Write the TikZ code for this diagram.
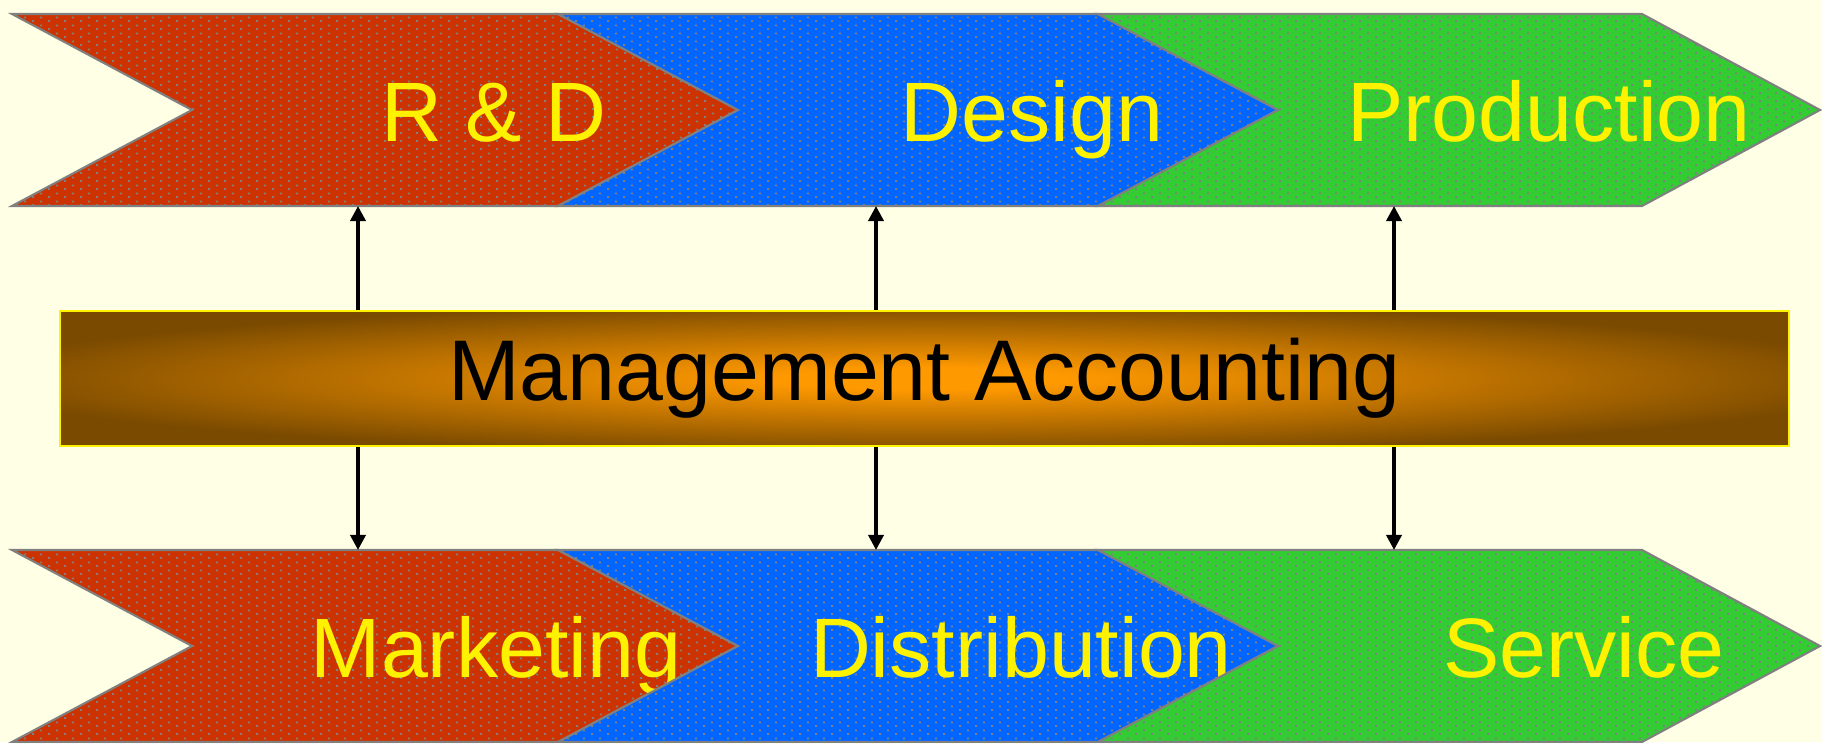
\documentclass[tikz,border=0pt]{standalone}
\usepackage{fontspec}
\setmainfont{Liberation Sans}
\usepackage{xcolor}
\usetikzlibrary{arrows.meta,patterns.meta}

\definecolor{paper}{RGB}{255,255,230}
\definecolor{rim}{RGB}{128,128,128}
\definecolor{boxDark}{RGB}{122,74,0}
\definecolor{boxLight}{RGB}{255,153,0}
\pgfdeclareradialshading{glow}{\pgfpoint{0bp}{0bp}}{color(0bp)=(boxLight); color(4bp)=(boxLight); color(28bp)=(boxDark); color(50bp)=(boxDark)}

% staggered grey stipple laid over the chevrons
\pgfdeclarepattern{
  name=stipple,
  type=uncolored,
  bottom left={\pgfpoint{0pt}{0pt}},
  top right={\pgfpoint{4.55pt}{2.28pt}},
  tile size={\pgfpoint{4.55pt}{2.28pt}},
  code={
    \pgfpathrectangle{\pgfpoint{0pt}{0pt}}{\pgfpoint{0.6pt}{0.6pt}}
    \pgfpathrectangle{\pgfpoint{2.275pt}{1.14pt}}{\pgfpoint{0.6pt}{0.6pt}}
    \pgfusepath{fill}
  }
}

\tikzset{
  chevron/.style={draw=rim, line width=0.6pt, line join=miter,
    postaction={pattern=stipple, pattern color=rim}},
  stage/.style={anchor=base, text=yellow, font=\fontsize{24}{28}\selectfont, inner sep=0pt},
  acctbox/.style={draw=yellow, line width=0.6pt, shading=glow, minimum width=17.29cm,
    minimum height=1.35cm, inner sep=0pt, font=\fontsize{24.5}{28}\selectfont},
  link/.style={line width=1pt, -{Triangle[length=4.3pt, width=4.3pt]}}
}

\begin{document}
\begin{tikzpicture}
\fill[paper] (0,0) rectangle (18.22,7.42);
\useasboundingbox (0,0) rectangle (18.22,7.42);

% upper chain
\definecolor{myColor}{RGB}{204,51,0}
\filldraw[chevron, fill=myColor] (0.12,7.28) -- (5.58,7.28) -- (7.38,6.32) -- (5.58,5.36) -- (0.12,5.36) -- (1.92,6.32) -- cycle;
\node[stage] (rd) at (4.94,6.00) {R \& D};
\definecolor{myColor}{RGB}{0,102,255}
\filldraw[chevron, fill=myColor] (5.58,7.28) -- (10.98,7.28) -- (12.78,6.32) -- (10.98,5.36) -- (5.58,5.36) -- (7.38,6.32) -- cycle;
\node[stage] (design) at (10.32,6.00) {Design};
\definecolor{myColor}{RGB}{51,204,51}
\filldraw[chevron, fill=myColor] (10.98,7.28) -- (16.42,7.28) -- (18.20,6.32) -- (16.42,5.36) -- (10.98,5.36) -- (12.78,6.32) -- cycle;
\node[stage] (production) at (15.49,6.00) {Production};

% lower chain
\definecolor{myColor}{RGB}{204,51,0}
\filldraw[chevron, fill=myColor] (0.12,1.92) -- (5.58,1.92) -- (7.38,0.96) -- (5.58,0) -- (0.12,0) -- (1.92,0.96) -- cycle;
\node[stage] (marketing) at (4.96,0.65) {Marketing};
\definecolor{myColor}{RGB}{0,102,255}
\filldraw[chevron, fill=myColor] (5.58,1.92) -- (10.98,1.92) -- (12.78,0.96) -- (10.98,0) -- (5.58,0) -- (7.38,0.96) -- cycle;
\node[stage] (distribution) at (10.21,0.65) {Distribution};
\definecolor{myColor}{RGB}{51,204,51}
\filldraw[chevron, fill=myColor] (10.98,1.92) -- (16.42,1.92) -- (18.20,0.96) -- (16.42,0) -- (10.98,0) -- (12.78,0.96) -- cycle;
\node[stage] (service) at (15.84,0.65) {Service};

% ends of the links on the chains
\coordinate (rdFoot) at (3.58,5.36);
\coordinate (designFoot) at (8.76,5.36);
\coordinate (productionFoot) at (13.94,5.36);
\coordinate (marketingTop) at (3.58,1.92);
\coordinate (distributionTop) at (8.76,1.92);
\coordinate (serviceTop) at (13.94,1.92);

\node[acctbox] (acct) at (9.245,3.635) {Management Accounting};

\draw[link] (acct.north -| rdFoot) -- (rdFoot);
\draw[link] (acct.north -| designFoot) -- (designFoot);
\draw[link] (acct.north -| productionFoot) -- (productionFoot);
\draw[link] (acct.south -| marketingTop) -- (marketingTop);
\draw[link] (acct.south -| distributionTop) -- (distributionTop);
\draw[link] (acct.south -| serviceTop) -- (serviceTop);
\end{tikzpicture}
\end{document}
